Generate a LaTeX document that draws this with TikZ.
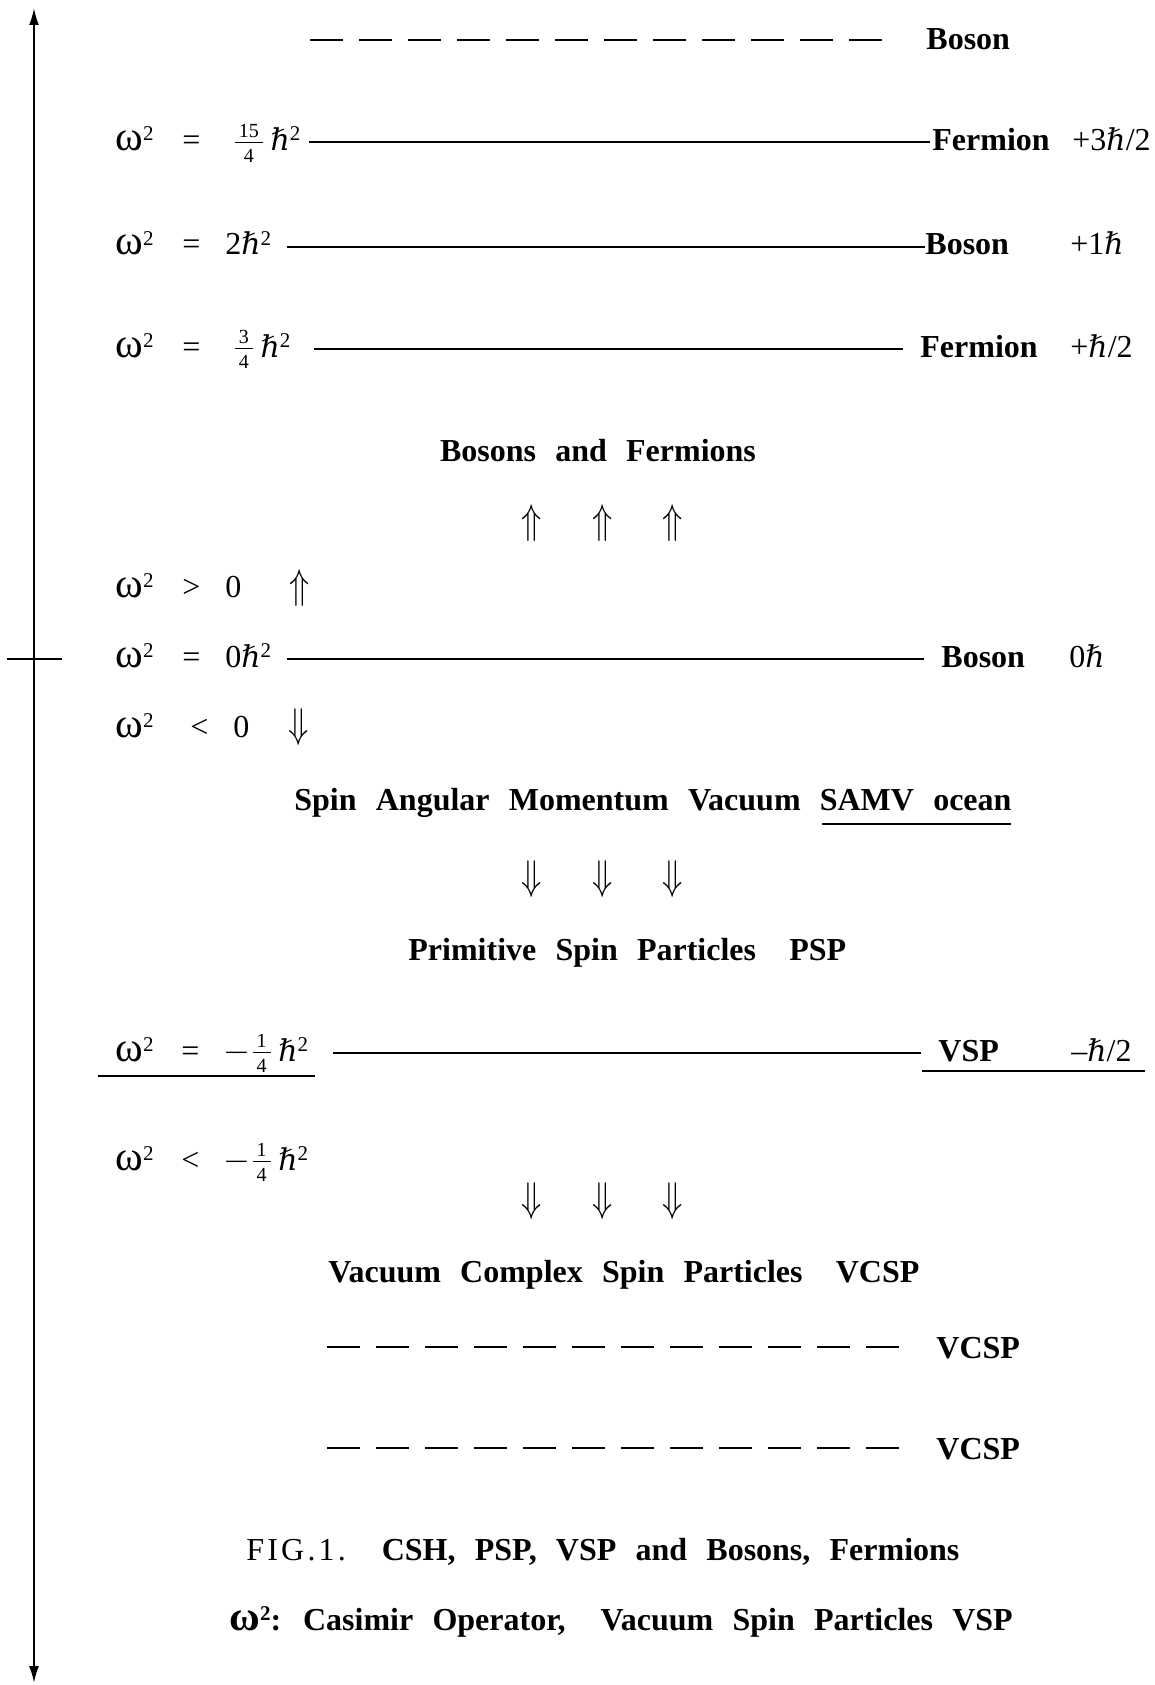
\documentclass[tikz,border=0pt]{standalone}
\usepackage{fontspec}
\setmainfont{Liberation Serif}
\newfontfamily\dvs{DejaVu Serif}
\usetikzlibrary{arrows.meta}
\newcommand\omsq{{\fontsize{21}{21}\selectfont ω}\raisebox{5pt}{\fontsize{10.5}{10.5}\selectfont 2}}
\newcommand\hb{{\fontsize{15}{15}\dvs\itshape ℏ}}
\newcommand\hbsq{\hb\raisebox{5pt}{\fontsize{10.5}{10.5}\selectfont 2}}
\newcommand\fr[2]{$\frac{\hbox{\fontsize{10}{10}\selectfont\hspace{2pt}#1\hspace{2pt}}}{\hbox{\fontsize{10}{10}\selectfont #2}}$}
\newcommand\upar{\scalebox{0.8}[1]{\fontsize{21}{21}\selectfont$\Uparrow$}}
\newcommand\dnar{\scalebox{0.8}[1]{\fontsize{21}{21}\selectfont$\Downarrow$}}
\begin{document}
\begin{tikzpicture}[x=0.5pt,y=-0.5pt,
  txt/.style={font=\fontsize{16}{19}\selectfont, inner sep=0pt, anchor=base west},
  lbl/.style={txt, font=\fontsize{16}{19}\selectfont\bfseries},
  wide/.style={lbl, execute at begin node={\spaceskip=9.6pt\relax}},
  arr/.style={inner sep=0pt, anchor=center},
  lvl/.style={line width=1pt},
  dsh/.style={line width=1.3pt, dash pattern=on 16.5pt off 8pt},
  uline/.style={line width=0.8pt},
  axis/.style={line width=1pt, {Latex[length=8.5pt,width=5pt]}-{Latex[length=8.5pt,width=5pt]}}]
\useasboundingbox (0,0) rectangle (1155,1685);

% axis
\coordinate (axt) at (34,8);
\coordinate (axb) at (34,1683);
\draw[axis] (axb) -- (axt);
\coordinate (tkl) at (7,659);
\coordinate (tkr) at (62,659);
\draw[lvl] (tkl) -- (tkr);

% row 1: dashed boson
\coordinate (a1) at (310,40); \coordinate (b1) at (884,40);
\draw[dsh] (a1) -- (b1);
\node[lbl] (n1) at (926,50) {Boson};

% row 2
\node[txt] (w2) at (115,151) {\omsq};
\node[txt] (q2) at (182,151) {=};
\node[txt] (v2) at (232,151) {\fr{15}{4}\,\hbsq};
\coordinate (a2) at (309,142); \coordinate (b2) at (930,142);
\draw[lvl] (a2) -- (b2);
\node[lbl] (n2) at (932,151) {Fermion};
\node[txt] (s2) at (1072,151) {+3\hb/2};

% row 3
\node[txt] (w3) at (115,255) {\omsq};
\node[txt] (q3) at (182,255) {=};
\node[txt] (v3) at (225,255) {2\hbsq};
\coordinate (a3) at (287,247); \coordinate (b3) at (925,247);
\draw[lvl] (a3) -- (b3);
\node[lbl] (n3) at (925,255) {Boson};
\node[txt] (s3) at (1070,255) {+1\hb};

% row 4
\node[txt] (w4) at (115,357) {\omsq};
\node[txt] (q4) at (182,357) {=};
\node[txt] (v4) at (232,357) {\fr{3}{4}\,\hbsq};
\coordinate (a4) at (314,349); \coordinate (b4) at (903,349);
\draw[lvl] (a4) -- (b4);
\node[lbl] (n4) at (920,357) {Fermion};
\node[txt] (s4) at (1070,357) {+\hb/2};

% bosons and fermions
\node[wide, anchor=base] (bf) at (598,461) {Bosons and Fermions};
\node[arr] (u1) at (532,523) {\upar};
\node[arr] (u2) at (603,523) {\upar};
\node[arr] (u3) at (673,523) {\upar};

% > 0
\node[txt] (w5) at (115,597) {\omsq};
\node[txt] (q5) at (182,597) {>};
\node[txt] (v5) at (225,597) {0};
\node[arr] (u5) at (300,588) {\upar};

% = 0
\node[txt] (w6) at (115,667) {\omsq};
\node[txt] (q6) at (182,667) {=};
\node[txt] (v6) at (225,667) {0\hbsq};
\coordinate (a6) at (287,659); \coordinate (b6) at (924,659);
\draw[lvl] (a6) -- (b6);
\node[lbl] (n6) at (941,667) {Boson};
\node[txt] (s6) at (1069,667) {0\hb};

% < 0
\node[txt] (w7) at (115,737) {\omsq};
\node[txt] (q7) at (190,737) {<};
\node[txt] (v7) at (233,737) {0};
\node[arr] (d7) at (299,727) {\dnar};

% SAMV
\node[wide] (samv) at (294,810) {Spin Angular Momentum Vacuum SAMV ocean};
\coordinate (ua) at (822,824); \coordinate (ub) at (1011,824);
\draw[uline] (ua) -- (ub);
\node[arr] (d1) at (532,879) {\dnar};
\node[arr] (d2) at (603,879) {\dnar};
\node[arr] (d3) at (673,879) {\dnar};
\node[wide] (psp) at (408,960) {Primitive Spin Particles\hspace{7pt} PSP};

% VSP row
\node[txt] (w8) at (115,1061) {\omsq};
\node[txt] (q8) at (181,1061) {=};
\node[txt] (v8) at (223,1061) {$-$\fr{1}{4}\,\hbsq};
\coordinate (la) at (98,1076); \coordinate (lb) at (315,1076);
\draw[uline] (la) -- (lb);
\coordinate (a8) at (333,1053); \coordinate (b8) at (921,1053);
\draw[lvl] (a8) -- (b8);
\node[lbl] (n8) at (938,1061) {VSP};
\node[txt] (s8) at (1071,1061) {–\hb/2};
\coordinate (ra) at (922,1071); \coordinate (rb) at (1145,1071);
\draw[uline] (ra) -- (rb);

% < -1/4
\node[txt] (w9) at (115,1170) {\omsq};
\node[txt] (q9) at (181,1170) {<};
\node[txt] (v9) at (223,1170) {$-$\fr{1}{4}\,\hbsq};
\node[arr] (e1) at (532,1201) {\dnar};
\node[arr] (e2) at (603,1201) {\dnar};
\node[arr] (e3) at (673,1201) {\dnar};
\node[wide] (vcsp) at (328,1282) {Vacuum Complex Spin Particles\hspace{7pt} VCSP};

% VCSP dashed
\coordinate (a10) at (327,1347); \coordinate (b10) at (901,1347);
\draw[dsh] (a10) -- (b10);
\node[lbl] (n10) at (936,1358) {VCSP};
\coordinate (a11) at (327,1448); \coordinate (b11) at (901,1448);
\draw[dsh] (a11) -- (b11);
\node[lbl] (n11) at (936,1459) {VCSP};

% captions
\node[wide] (cap1) at (246,1560) {{\mdseries\addfontfeature{LetterSpace=10}FIG.1.}\hspace{7pt} CSH, PSP, VSP and Bosons, Fermions};
\node[wide] (cap2) at (229,1630) {\omsq: Casimir Operator,\hspace{8pt} Vacuum Spin Particles VSP};
\end{tikzpicture}
\end{document}
